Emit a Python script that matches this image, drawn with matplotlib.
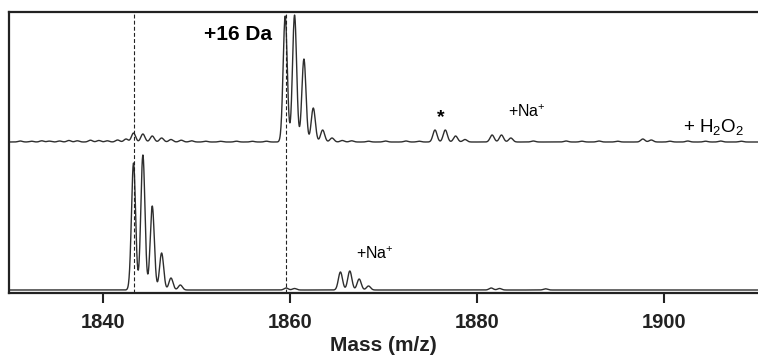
import numpy as np
import matplotlib
matplotlib.use("Agg")
import matplotlib.pyplot as plt

plt.rcParams["font.family"] = ["Liberation Sans", "DejaVu Sans"]
plt.rcParams["mathtext.fontset"] = "custom"
plt.rcParams["mathtext.rm"] = "Liberation Sans"
plt.rcParams["mathtext.it"] = "Liberation Sans:italic"
plt.rcParams["mathtext.bf"] = "Liberation Sans:bold"

# peak lists (m/z, height in px above its baseline)
top_mz = [1831.2, 1832.4, 1833.5, 1834.3, 1835.4,
          1836.4, 1837.3, 1838.7, 1839.6, 1840.5, 1841.6, 1842.5,
          1843.3, 1844.3, 1845.3, 1846.3, 1847.3, 1848.4, 1849.5,
          1851.0, 1852.6, 1854.3, 1856.0, 1857.5,
          1859.5, 1860.5, 1861.5, 1862.5, 1863.5, 1864.5, 1865.6, 1866.6,
          1868.4, 1870.2, 1872.4, 1873.8, 1875.5, 1876.6, 1877.7, 1878.7,
          1881.6, 1882.6, 1883.6, 1886.0, 1889.5, 1891.2, 1893.0, 1895.0,
          1897.7, 1898.6, 1900.6, 1902.5, 1904.4, 1906.0, 1908.2]
top_h = [1.0, 0.8, 1.2, 0.9, 1.0,
         1.5, 1.2, 1.8, 1.5, 1.2, 2.0, 3.0,
         9, 8, 6, 4, 2.5, 1.8, 1.2,
         0.8, 0.7, 0.8, 0.7, 0.8,
         126, 127, 83, 34, 12, 4, 1.5, 1.2,
         0.8, 1.0, 1.0, 0.8, 12, 12, 6, 2.5,
         7, 7, 4, 1.0, 1.0, 0.8, 1.0, 0.8,
         3, 2, 0.8, 1.0, 0.8, 1.0, 0.8]

bottom_mz = [1843.3, 1844.3, 1845.3, 1846.3, 1847.3, 1848.3,
             1859.6, 1860.5, 1865.4, 1866.4, 1867.4, 1868.4,
             1881.5, 1882.4, 1887.3]
bottom_h = [127, 135, 84, 37, 12, 5,
            2, 1.5, 18, 19, 11, 4,
            2, 1.5, 1.2]

marker_mz = [1843.3, 1859.6]
xticks = [1840, 1860, 1880, 1900]

TOP_BASE = 151
BOTTOM_BASE = 3
SIGMA = 0.22


def trace(x, centers, heights):
    y = np.zeros_like(x)
    for c, h in zip(centers, heights):
        y += h * np.exp(-0.5 * ((x - c) / SIGMA) ** 2)
    return y


fig = plt.figure(figsize=(7.58, 3.58), dpi=100)
ax = fig.add_axes([9 / 758, 65 / 358, 749 / 758, 281 / 358])

x = np.linspace(1830, 1910, 4000)
ax.plot(x, TOP_BASE + trace(x, top_mz, top_h), color="#2e2e2e", lw=1.0)
ax.plot(x, BOTTOM_BASE + trace(x, bottom_mz, bottom_h), color="#2e2e2e", lw=1.0)

for m in marker_mz:
    ax.axvline(m, color="#222222", lw=0.8, ls=(0, (3.5, 2)))

ax.set_xlim(1830, 1910)
ax.set_ylim(0, 281)
ax.set_yticks([])
ax.set_xticks(xticks)
ax.set_xticklabels([str(t) for t in xticks], fontsize=14.5, fontweight="bold")
ax.tick_params(axis="x", direction="out", length=7.5, width=1.5, pad=7, colors="#222222")
for side in ("left", "top", "bottom"):
    ax.spines[side].set_linewidth(1.6)
    ax.spines[side].set_color("#222222")
ax.spines["right"].set_visible(False)

ax.set_xlabel("Mass (m/z)", fontsize=15, fontweight="bold", labelpad=3, color="#222222")

ax.text(1854.5, 258, "+16 Da", fontsize=15, fontweight="bold", ha="center", va="center")
ax.text(1876.1, 175, "*", fontsize=14, fontweight="bold", ha="center", va="center")
ax.text(1885.3, 181, "+Na$^{+}$", fontsize=11.5, ha="center", va="center")
ax.text(1905.2, 166, "+ H$_{2}$O$_{2}$", fontsize=13.5, ha="center", va="center")
ax.text(1869.1, 39, "+Na$^{+}$", fontsize=11.5, ha="center", va="center")

fig.savefig("out.png", dpi=100, facecolor="white")
